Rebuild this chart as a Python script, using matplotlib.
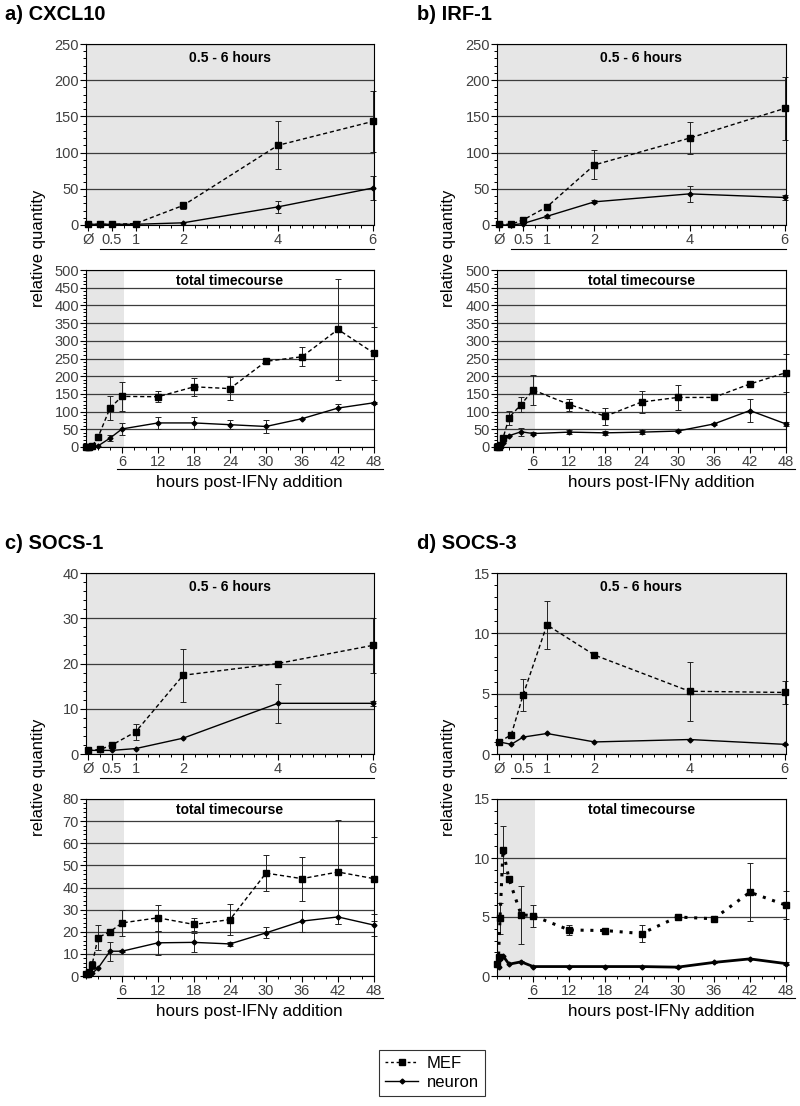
import numpy as np
import matplotlib.pyplot as plt
import matplotlib.transforms as mtransforms
from matplotlib.lines import Line2D
from matplotlib.ticker import MultipleLocator

plt.rcParams['font.family'] = ['Liberation Sans', 'DejaVu Sans']

# time points (hours), first 7 belong to the 0.5 - 6 h view
times = [0, 0.25, 0.5, 1, 2, 4, 6, 12, 18, 24, 30, 36, 42, 48]
short_ticks = [0, 0.5, 1, 2, 4, 6]
short_labels = ['Ø', '0.5', '1', '2', '4', '6']
long_ticks = [6, 12, 18, 24, 30, 36, 42, 48]

# CXCL10
cxcl10_mef = [1, 1, 1, 2, 27, 110, 143, 142, 170, 165, 242, 255, 332, 265]
cxcl10_mef_err = [0, 0, 0, 0, 5, 33, 42, 16, 26, 32, 3, 27, 143, 75]
cxcl10_neu = [1, 1, 1, 1, 3, 25, 51, 68, 68, 63, 58, 80, 110, 125]
cxcl10_neu_err = [0, 0, 0, 0, 0, 8, 16, 18, 18, 12, 18, 2, 12, 3]

# IRF-1
irf1_mef = [1, 1, 7, 25, 83, 120, 161, 120, 87, 127, 140, 140, 178, 210]
irf1_mef_err = [0, 0, 0, 3, 20, 22, 43, 17, 24, 32, 35, 3, 4, 54]
irf1_neu = [0, 0, 2, 12, 32, 43, 38, 42, 40, 42, 45, 65, 103, 65]
irf1_neu_err = [0, 0, 0, 2, 2, 11, 4, 5, 6, 5, 3, 4, 32, 7]

# SOCS-1
socs1_mef = [0.8, 1.0, 2.0, 4.9, 17.4, 20, 24, 26.3, 23.3, 25.5, 46.5, 44, 47, 44]
socs1_mef_err = [0, 0, 0.3, 1.8, 5.8, 0.3, 6, 6, 2.8, 7, 8.3, 10, 23.5, 19]
socs1_neu = [0.8, 0.8, 0.8, 1.2, 3.5, 11.2, 11.2, 15, 15.2, 14.5, 19.5, 24.8, 26.7, 23]
socs1_neu_err = [0, 0, 0, 0, 0, 4.3, 0.5, 5.4, 4.3, 1, 2.5, 5, 3, 5]

# SOCS-3
socs3_mef = [1.0, 1.6, 4.9, 10.7, 8.2, 5.2, 5.1, 3.9, 3.85, 3.6, 5.0, 4.85, 7.1, 6.0]
socs3_mef_err = [0, 0, 1.3, 2.0, 0.1, 2.45, 0.95, 0.4, 0.05, 0.7, 0.1, 0.1, 2.45, 1.2]
socs3_neu = [1.0, 0.8, 1.4, 1.7, 1.0, 1.2, 0.8, 0.8, 0.8, 0.8, 0.75, 1.15, 1.45, 1.05]
socs3_neu_err = [0, 0, 0, 0, 0, 0.05, 0.05, 0.05, 0.05, 0.05, 0.05, 0.05, 0.05, 0.1]

W, H = 800, 1106
fig = plt.figure(figsize=(8, 11.06), dpi=100)
GREY = '#e6e6e6'
TICKC = '#404040'


def px_axes(l, t, r, b):
    return fig.add_axes([l / W, 1 - b / H, (r - l) / W, (b - t) / H])


def plot_series(ax, t, mef, mef_err, neu, neu_err, thick=False):
    t = np.array(t); mef = np.array(mef); neu = np.array(neu)
    mef_err = np.array(mef_err); neu_err = np.array(neu_err)
    for y, e in ((mef, mef_err), (neu, neu_err)):
        m = e > 0
        ax.errorbar(t[m], y[m], yerr=e[m], fmt='none', ecolor='#222222',
                    elinewidth=0.7, capsize=2, capthick=0.7, zorder=2, clip_on=False)
    if thick:
        ax.plot(t, mef, color='black', ls=(0, (1, 2.2)), lw=2.2, marker='s', ms=5,
                zorder=3, clip_on=False)
        ax.plot(t, neu, color='black', lw=2.0, marker='D', ms=2.5, zorder=3, clip_on=False)
    else:
        ax.plot(t, mef, color='black', ls=(0, (3, 2)), lw=1.0, marker='s', ms=5,
                zorder=3, clip_on=False)
        ax.plot(t, neu, color='black', lw=1.0, marker='D', ms=2.5, zorder=3, clip_on=False)


def style_y(ax, ymax, step, minor):
    ax.set_ylim(0, ymax)
    ax.yaxis.set_major_locator(MultipleLocator(step))
    ax.yaxis.set_minor_locator(MultipleLocator(minor))
    ax.grid(axis='y', color='#3c3c3c', lw=0.9)
    ax.set_axisbelow(True)
    ax.tick_params(axis='y', which='major', direction='out', length=4, width=0.8,
                   labelsize=10.5, labelcolor=TICKC, pad=1)
    ax.tick_params(axis='y', which='minor', direction='out', length=2, width=0.7)
    for s in ax.spines.values():
        s.set_linewidth(0.8)


def draw_panel(col, row, title, mef, mef_err, neu, neu_err,
               top_lim, bot_lim, thick=False):
    left, right = (86, 374) if col == 0 else (497, 786)
    dy = 0 if row == 0 else 529
    fig.text((5 if col == 0 else 417) / W, 1 - (15 + dy) / H, title,
             fontsize=14.5, fontweight='bold', ha='left', va='center')
    fig.text((39 if col == 0 else 449) / W, 1 - (248 + dy) / H, 'relative quantity',
             rotation=90, fontsize=12, ha='center', va='center')

    # 0.5 - 6 hours view
    ax1 = px_axes(left, 44 + dy, right, 225 + dy)
    ax1.set_facecolor(GREY)
    ax1.set_xlim(-0.05, 6.03)
    style_y(ax1, *top_lim)
    ax1.set_xticks(short_ticks)
    ax1.set_xticklabels(short_labels)
    ax1.xaxis.set_minor_locator(MultipleLocator(0.25))
    ax1.tick_params(axis='x', which='major', direction='out', length=4, width=0.8,
                    labelsize=10.5, labelcolor=TICKC, pad=2)
    ax1.tick_params(axis='x', which='minor', direction='out', length=2, width=0.7)
    plot_series(ax1, times[:7], mef[:7], mef_err[:7], neu[:7], neu_err[:7])
    ax1.text(0.5, 0.923, '0.5 - 6 hours', transform=ax1.transAxes, ha='center',
             va='center', fontsize=10, fontweight='bold')
    tr1 = mtransforms.blended_transform_factory(ax1.transData, ax1.transAxes)
    ax1.plot([0.25, 6.03], [-0.13, -0.13], transform=tr1, color='black', lw=0.8,
             clip_on=False)

    # total timecourse view
    ax2 = px_axes(left, 270 + dy, right, 447 + dy)
    ax2.set_xlim(0, 48)
    ax2.axvspan(0, 6.3, color=GREY, zorder=0, lw=0)
    style_y(ax2, *bot_lim)
    ax2.set_xticks(long_ticks)
    ax2.xaxis.set_minor_locator(MultipleLocator(2))
    ax2.tick_params(axis='x', which='major', direction='out', length=4, width=0.8,
                    labelsize=10.5, labelcolor=TICKC, pad=2)
    ax2.tick_params(axis='x', which='minor', direction='out', length=2, width=0.7)
    plot_series(ax2, times, mef, mef_err, neu, neu_err, thick=thick)
    ax2.text(0.5, 0.938, 'total timecourse', transform=ax2.transAxes, ha='center',
             va='center', fontsize=10, fontweight='bold')
    tr2 = mtransforms.blended_transform_factory(ax2.transData, ax2.transAxes)
    ax2.plot([5.2, 49.5], [-0.124, -0.124], transform=tr2, color='black', lw=0.8,
             clip_on=False)
    ax2.text(27.3, -0.2, 'hours post-IFNγ addition', transform=tr2, ha='center',
             va='center', fontsize=12.3)


draw_panel(0, 0, 'a) CXCL10', cxcl10_mef, cxcl10_mef_err, cxcl10_neu, cxcl10_neu_err,
           (250, 50, 10), (500, 50, 10))
draw_panel(1, 0, 'b) IRF-1', irf1_mef, irf1_mef_err, irf1_neu, irf1_neu_err,
           (250, 50, 10), (500, 50, 10))
draw_panel(0, 1, 'c) SOCS-1', socs1_mef, socs1_mef_err, socs1_neu, socs1_neu_err,
           (40, 10, 2), (80, 10, 2))
draw_panel(1, 1, 'd) SOCS-3', socs3_mef, socs3_mef_err, socs3_neu, socs3_neu_err,
           (15, 5, 1), (15, 5, 1), thick=True)

handles = [Line2D([], [], color='black', ls=(0, (2, 2)), lw=1, marker='s', ms=5),
           Line2D([], [], color='black', lw=1, marker='D', ms=2.5)]
leg = fig.legend(handles, ['MEF', 'neuron'], loc='center',
                 bbox_to_anchor=(432 / W, 1 - 1073 / H), frameon=True, fancybox=False,
                 edgecolor='black', fontsize=12, handlelength=2.0, borderpad=0.35,
                 labelspacing=0.25, handletextpad=0.5)
leg.get_frame().set_linewidth(0.8)

fig.savefig('out.png', dpi=100)
